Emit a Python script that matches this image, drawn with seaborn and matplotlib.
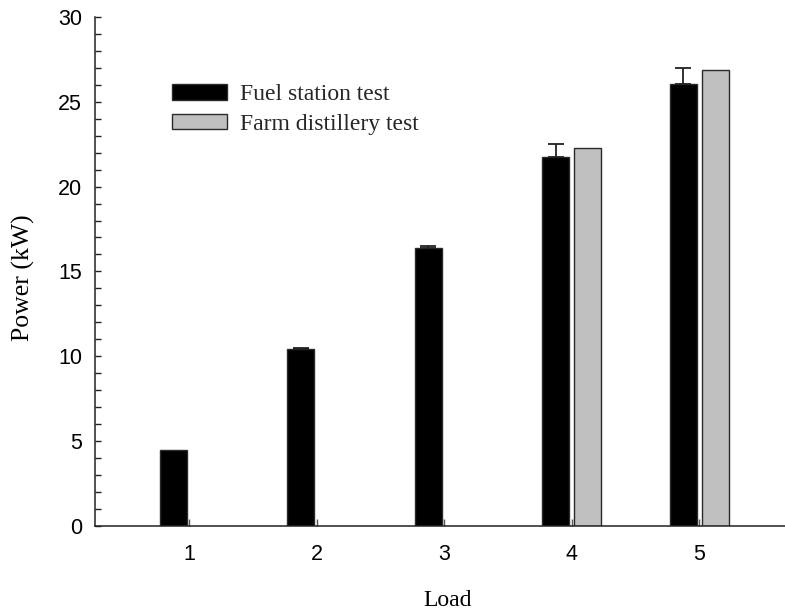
import numpy as np
import pandas as pd
import matplotlib
matplotlib.use("Agg")
import matplotlib.pyplot as plt
from matplotlib.ticker import MultipleLocator
import seaborn as sns

# ---- data ----
loads = ["1", "2", "3", "4", "5"]
fuel_station = [4.48, 10.43, 16.36, 21.73, 26.03]
fuel_station_err = [0.0, 0.07, 0.15, 0.78, 0.97]
farm_distillery = [np.nan, np.nan, np.nan, 22.27, 26.86]
series_names = ["Fuel station test", "Farm distillery test"]
y_ticks = [0, 5, 10, 15, 20, 25, 30]

df = pd.DataFrame({
    "Load": loads * 2,
    "Power": fuel_station + farm_distillery,
    "Test": [series_names[0]] * len(loads) + [series_names[1]] * len(loads),
})

sns.set_style("white")
serif = ["Liberation Serif", "DejaVu Serif"]
sans = ["Liberation Sans", "DejaVu Sans"]

fig = plt.figure(figsize=(7.85, 6.09), dpi=100)
ax = fig.add_axes([0.1204, 0.1363, 0.8796, 0.836])

sns.barplot(data=df, x="Load", y="Power", hue="Test", order=loads,
            hue_order=series_names, palette=["black", "#c0c0c0"],
            width=0.5, gap=0.16, edgecolor="#2a2a2a", linewidth=1.0,
            errorbar=None, saturation=1, ax=ax)

# one-sided error bars on the fuel station bars (only where an error exists)
cont = ax.containers[0]
xs, ys, es = [], [], []
for b, e in zip(cont, fuel_station_err):
    if e > 0:
        xs.append(b.get_x() + b.get_width() / 2)
        ys.append(b.get_height())
        es.append(e)
ax.errorbar(xs, ys, yerr=[np.zeros(len(ys)), es], fmt="none",
            ecolor="#222222", elinewidth=1.3, capsize=5.5, capthick=1.3, zorder=1)

ax.set_ylim(0, 30)
ax.set_xlim(-0.7435, 4.672)
ax.set_yticks(y_ticks)
ax.yaxis.set_minor_locator(MultipleLocator(1))

for s in ["top", "right"]:
    ax.spines[s].set_visible(False)
for s in ["left", "bottom"]:
    ax.spines[s].set_color("#222222")
    ax.spines[s].set_linewidth(1.1)

ax.tick_params(axis="y", which="both", direction="in", length=4, width=1.0,
               color="#222222", left=True, pad=9)
ax.tick_params(axis="x", which="major", direction="in", length=5, width=1.0,
               color="#555555", bottom=True, pad=13)
for lab in ax.get_xticklabels() + ax.get_yticklabels():
    lab.set_fontfamily(sans)
    lab.set_fontsize(15.5)
    lab.set_color("black")

ax.set_xlabel("Load", fontsize=17, family=serif, color="black")
ax.set_ylabel("Power (kW)", fontsize=18.5, family=serif, color="black")
ax.xaxis.set_label_coords((448 - 94.5) / (785 - 94.5), -(600 - 526) / 509, transform=ax.transAxes)
ax.yaxis.set_label_coords(-(94.5 - 23) / (785 - 94.5), (526 - 278) / 509, transform=ax.transAxes)
ax.xaxis.label.set_va("center")
ax.yaxis.label.set_va("center")

handles, labels = ax.get_legend_handles_labels()
if ax.get_legend() is not None:
    ax.get_legend().remove()
fig.legend(handles, labels, loc="upper left", bbox_to_anchor=(0.2195, 0.862),
           frameon=False, borderpad=0, borderaxespad=0, handlelength=2.3,
           handleheight=0.64, handletextpad=0.56, labelspacing=0.36,
           prop={"family": serif, "size": 17})

fig.savefig("out.png", dpi=100)
